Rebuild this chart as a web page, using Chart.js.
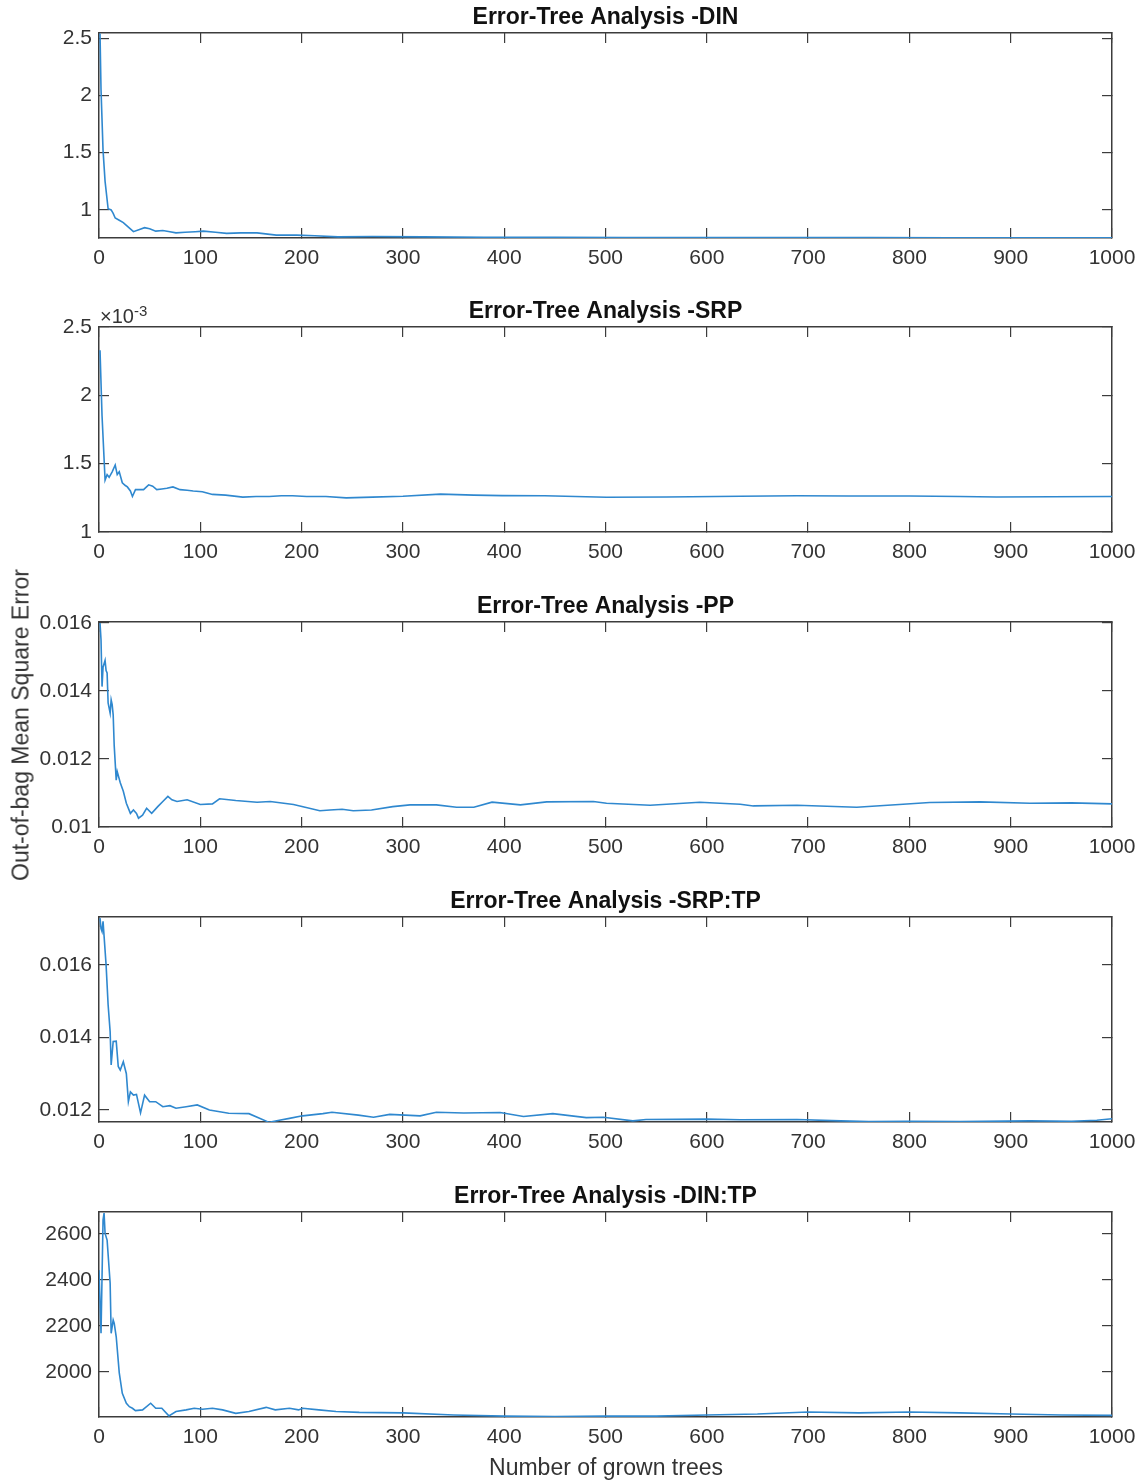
<!DOCTYPE html>
<html>
<head>
<meta charset="utf-8">
<script src="https://cdn.jsdelivr.net/npm/chart.js@4.4.1/dist/chart.umd.min.js"></script>
<style>
  body { margin: 0; background: #fff; }
  #wrap { position: relative; width: 1142px; height: 1483px; font-family: "Liberation Sans", Arial, sans-serif; color: #333; }
  canvas { position: absolute; left: 0; }
  .ylab { position: absolute; left: 21px; top: 725px; transform: translate(-50%, -50%) rotate(-90deg); font-size: 23px; white-space: nowrap; }
  .xlab { position: absolute; left: 606px; top: 1467px; transform: translate(-50%, -50%); font-size: 23px; white-space: nowrap; }
  .expo { position: absolute; left: 100px; top: 303px; font-size: 20px; line-height: 1; }
  .expo sup { font-size: 15px; vertical-align: 7px; }
</style>
</head>
<body>
<div id="wrap">
  <canvas id="pDin" width="1142" height="276"></canvas>
  <canvas id="pSrp" width="1142" height="276"></canvas>
  <canvas id="pPp" width="1142" height="276"></canvas>
  <canvas id="pSrpTp" width="1142" height="276"></canvas>
  <canvas id="pDinTp" width="1142" height="276"></canvas>
  <div class="expo">&times;10<sup>-3</sup></div>
  <div class="ylab">Out-of-bag Mean Square Error</div>
  <div class="xlab">Number of grown trees</div>
</div>
<script>
// x axis: number of grown trees
var treeTicks = [0, 100, 200, 300, 400, 500, 600, 700, 800, 900, 1000];

// DIN
var dinTrees = [1, 2, 4, 6, 9, 12, 14, 16, 20, 24, 29, 34, 40, 45, 50, 56, 63, 70, 76, 85, 95, 103, 115, 126, 140, 156, 175, 195, 213, 236, 270, 320, 380, 450, 520, 600, 680, 760, 840, 920, 1000];
var dinErr = [2.54, 2.05, 1.52, 1.25, 1.01, 1.00, 0.97, 0.93, 0.91, 0.89, 0.85, 0.81, 0.83, 0.845, 0.835, 0.815, 0.82, 0.81, 0.80, 0.805, 0.81, 0.815, 0.805, 0.795, 0.80, 0.80, 0.78, 0.78, 0.775, 0.765, 0.768, 0.765, 0.762, 0.762, 0.76, 0.759, 0.758, 0.758, 0.757, 0.757, 0.756];
var dinTicks = [1, 1.5, 2, 2.5];

// SRP (values x 10^-3)
var srpTrees = [1, 3, 6, 8, 10, 13, 16, 18, 20, 23, 26, 28, 31, 33, 36, 40, 44, 49, 53, 57, 62, 67, 73, 80, 87, 93, 102, 112, 125, 142, 155, 168, 180, 191, 205, 224, 244, 270, 300, 337, 370, 398, 440, 501, 560, 633, 689, 740, 800, 850, 886, 940, 1000];
var srpErrE3 = [2.33, 1.85, 1.38, 1.42, 1.40, 1.44, 1.49, 1.42, 1.44, 1.36, 1.34, 1.33, 1.30, 1.26, 1.31, 1.31, 1.31, 1.345, 1.335, 1.31, 1.315, 1.32, 1.33, 1.31, 1.305, 1.30, 1.295, 1.275, 1.27, 1.255, 1.26, 1.26, 1.265, 1.265, 1.26, 1.26, 1.25, 1.255, 1.262, 1.277, 1.27, 1.266, 1.265, 1.254, 1.256, 1.262, 1.265, 1.263, 1.263, 1.26, 1.256, 1.258, 1.26];
var srpTicks = [1, 1.5, 2, 2.5];

// PP
var ppTrees = [1, 2, 3, 4, 6, 7, 8, 9, 11, 12, 13, 14, 15, 17, 18, 21, 24, 27, 31, 34, 37, 39, 43, 47, 52, 58, 63, 68, 72, 77, 87, 100, 112, 119, 135, 156, 169, 192, 218, 228, 240, 251, 269, 290, 307, 333, 353, 370, 388, 416, 442, 488, 501, 544, 593, 633, 646, 689, 748, 790, 820, 870, 919, 960, 1000];
var ppErr = [0.0160, 0.0155, 0.01413, 0.0147, 0.0149, 0.0146, 0.01453, 0.01365, 0.01335, 0.01374, 0.0136, 0.0133, 0.0124, 0.01138, 0.01163, 0.0113, 0.01105, 0.0107, 0.0104, 0.0105, 0.0104, 0.01026, 0.01035, 0.01055, 0.0104, 0.0106, 0.01075, 0.0109, 0.0108, 0.01075, 0.0108, 0.01066, 0.01068, 0.01083, 0.01078, 0.01073, 0.01075, 0.01066, 0.01048, 0.0105, 0.01052, 0.01048, 0.0105, 0.0106, 0.01065, 0.01065, 0.01058, 0.01058, 0.01073, 0.01065, 0.01074, 0.01075, 0.0107, 0.01064, 0.01073, 0.01067, 0.01062, 0.01064, 0.01058, 0.01066, 0.01072, 0.01074, 0.0107, 0.01071, 0.01068];
var ppTicks = [0.01, 0.012, 0.014, 0.016];

// SRP:TP
var srpTpTrees = [1, 2, 3, 4, 5, 7, 9, 11, 12, 14, 17, 19, 21, 24, 27, 29, 31, 34, 37, 41, 45, 50, 56, 63, 70, 76, 86, 97, 109, 128, 148, 168, 178, 188, 201, 221, 230, 256, 271, 287, 317, 333, 360, 396, 419, 448, 481, 498, 527, 540, 600, 633, 689, 732, 760, 800, 850, 919, 960, 985, 1000];
var srpTpErr = [0.01729, 0.0170, 0.01692, 0.0172, 0.0168, 0.0160, 0.0149, 0.01416, 0.01324, 0.01389, 0.0139, 0.0132, 0.0131, 0.01333, 0.0130, 0.01223, 0.0125, 0.01241, 0.01243, 0.01192, 0.01241, 0.01223, 0.01223, 0.01209, 0.01212, 0.01205, 0.01209, 0.01214, 0.012, 0.01191, 0.0119, 0.01166, 0.01172, 0.01177, 0.01184, 0.0119, 0.01194, 0.01186, 0.0118, 0.01188, 0.01184, 0.01194, 0.01192, 0.01193, 0.01182, 0.0119, 0.01179, 0.0118, 0.0117, 0.01174, 0.01175, 0.01173, 0.01174, 0.0117, 0.01168, 0.01169, 0.01168, 0.0117, 0.01169, 0.01172, 0.01176];
var srpTpTicks = [0.012, 0.014, 0.016];

// DIN:TP
var dinTpTrees = [0, 2, 4, 5, 6, 8, 11, 12, 14, 15, 17, 20, 23, 27, 30, 33, 36, 43, 51, 56, 62, 69, 76, 86, 94, 102, 112, 122, 135, 148, 165, 174, 188, 197, 201, 217, 234, 257, 300, 350, 400, 450, 500, 550, 600, 650, 700, 750, 800, 850, 900, 950, 1000];
var dinTpErr = [2443, 2168, 2661, 2691, 2603, 2574, 2386, 2168, 2226, 2212, 2153, 1996, 1907, 1864, 1849, 1842, 1832, 1835, 1864, 1842, 1842, 1809, 1828, 1835, 1842, 1838, 1842, 1835, 1820, 1828, 1846, 1835, 1842, 1835, 1842, 1835, 1828, 1824, 1822, 1813, 1808, 1806, 1808, 1808, 1813, 1817, 1826, 1822, 1826, 1822, 1817, 1813, 1811];
var dinTpTicks = [2000, 2200, 2400, 2600];

var fontFamily = '"Liberation Sans", Arial, sans-serif';
var ink = '#333333';
var axisColor = '#3c3c3c';
var lineColor = '#2f88cf';

function fixTicks(vals) {
    return function (scale) {
        scale.ticks = vals.map(function (v) { return { value: v }; });
    };
}

function panel(id, top, title, xs, ys, yMin, yMax, yTicks) {
    var canvas = document.getElementById(id);
    canvas.style.top = top + 'px';
    var pts = xs.map(function (x, i) { return { x: x, y: ys[i] }; });
    var grid = { drawOnChartArea: false, tickLength: -10, color: axisColor, lineWidth: 1.2 };
    var border = { color: axisColor, width: 1.5 };
    var tickFont = { family: fontFamily, size: 21 };

    new Chart(canvas, {
        type: 'line',
        data: {
            datasets: [{
                data: pts,
                borderColor: lineColor,
                borderWidth: 1.6,
                pointRadius: 0,
                tension: 0,
                fill: false
            }]
        },
        options: {
            responsive: false,
            animation: false,
            layout: { padding: { left: 0, right: 30, top: 0, bottom: 0 } },
            plugins: {
                legend: { display: false },
                tooltip: { enabled: false },
                title: {
                    display: true,
                    text: title,
                    fullSize: false,
                    color: '#111',
                    font: { family: fontFamily, size: 23, weight: 'bold', lineHeight: 1 },
                    padding: { top: 4, bottom: 4 }
                }
            },
            scales: {
                x: {
                    type: 'linear', position: 'bottom', min: 0, max: 1000,
                    afterBuildTicks: fixTicks(treeTicks),
                    afterFit: function (s) { s.height = 40; s.paddingLeft = 0; s.paddingRight = 0; },
                    grid: grid, border: border,
                    ticks: { padding: 18, color: ink, font: tickFont, maxRotation: 0, callback: function (v) { return String(v); } }
                },
                xTop: {
                    type: 'linear', position: 'top', min: 0, max: 1000,
                    afterBuildTicks: fixTicks(treeTicks),
                    afterFit: function (s) { s.height = 0; s.paddingLeft = 0; s.paddingRight = 0; },
                    grid: grid, border: border,
                    ticks: { display: false }
                },
                y: {
                    type: 'linear', position: 'left', min: yMin, max: yMax,
                    afterBuildTicks: fixTicks(yTicks),
                    afterFit: function (s) { s.width = 99; },
                    grid: grid, border: border,
                    ticks: { padding: 17, color: ink, font: tickFont, callback: function (v) { return String(v); } }
                },
                yRight: {
                    type: 'linear', position: 'right', min: yMin, max: yMax,
                    afterBuildTicks: fixTicks(yTicks),
                    afterFit: function (s) { s.width = 0; },
                    grid: grid, border: border,
                    ticks: { display: false }
                }
            }
        }
    });
}

panel('pDin', 2, 'Error-Tree Analysis -DIN', dinTrees, dinErr, 0.755, 2.545, dinTicks);
panel('pSrp', 296, 'Error-Tree Analysis -SRP', srpTrees, srpErrE3, 1, 2.5, srpTicks);
panel('pPp', 591, 'Error-Tree Analysis -PP', ppTrees, ppErr, 0.01, 0.01603, ppTicks);
panel('pSrpTp', 886, 'Error-Tree Analysis -SRP:TP', srpTpTrees, srpTpErr, 0.01167, 0.01732, srpTpTicks);
panel('pDinTp', 1181, 'Error-Tree Analysis -DIN:TP', dinTpTrees, dinTpErr, 1804, 2696, dinTpTicks);
</script>
</body>
</html>
